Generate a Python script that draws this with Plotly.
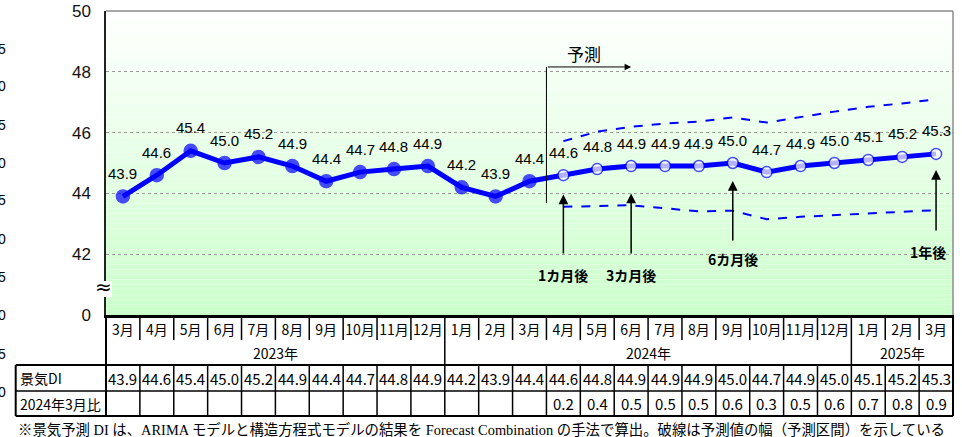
import plotly.graph_objects as go

# months Mar 2023 .. Mar 2025
months = ["3月", "4月", "5月", "6月", "7月", "8月", "9月", "10月", "11月", "12月",
          "1月", "2月", "3月", "4月", "5月", "6月", "7月", "8月", "9月", "10月",
          "11月", "12月", "1月", "2月", "3月"]
years = ["2023年", "2024年", "2025年"]
year_start = [0, 10, 22]   # first column of each year
di_values = [43.9, 44.6, 45.4, 45.0, 45.2, 44.9, 44.4, 44.7, 44.8, 44.9, 44.2, 43.9, 44.4,
             44.6, 44.8, 44.9, 44.9, 44.9, 45.0, 44.7, 44.9, 45.0, 45.1, 45.2, 45.3]
n_actual = 13
vs_mar2024 = [None] * 13 + [0.2, 0.4, 0.5, 0.5, 0.5, 0.6, 0.3, 0.5, 0.6, 0.7, 0.8, 0.9]
upper = [45.72, 46.03, 46.19, 46.30, 46.36, 46.50, 46.33, 46.52, 46.69, 46.85, 46.96, 47.10]
lower = [43.56, 43.59, 43.61, 43.51, 43.41, 43.43, 43.15, 43.23, 43.29, 43.35, 43.40, 43.45]
horizons = ["1カ月後", "3カ月後", "6カ月後", "1年後"]
horizon_idx = [13, 15, 18, 24]
ytick_vals = [40, 42, 44, 46, 48, 50]
ytick_text = ["0", "42", "44", "46", "48", "50"]

n = len(months)
x = list(range(n))
fx = x[n_actual:]

W, H = 962, 437
L, T, R, B = 106, 11, 9, 122
PW, PH = W - L - R, H - T - B
IMG_L, IMG_B = L, H - B


def px_x(p):
    return (p - IMG_L) / PW


def px_y(p):
    return (IMG_B - p) / PH


BLUE = "#0000ff"
GOTHIC = "Noto Sans CJK JP"
SANS = "Liberation Sans"

fig = go.Figure()

# main line
fig.add_trace(go.Scatter(
    x=x, y=di_values, mode="lines+markers",
    line=dict(color=BLUE, width=5),
    marker=dict(color=[BLUE] * n_actual + ["white"] * (n - n_actual),
                size=[13] * n_actual + [11] * (n - n_actual),
                line=dict(color=BLUE, width=1.5)),
    showlegend=False, hoverinfo="skip"))

# prediction interval
for band in (upper, lower):
    fig.add_trace(go.Scatter(x=fx, y=band, mode="lines",
                             line=dict(color=BLUE, width=2, dash="dash"),
                             showlegend=False, hoverinfo="skip"))

shapes = []
# green gradient background
nb = 60
for i in range(nb):
    t = 1 - (i + 0.5) / nb
    c = int(round(255 - 51 * t))
    shapes.append(dict(type="rect", xref="paper", yref="paper", x0=0, x1=1,
                       y0=i / nb, y1=(i + 1) / nb, fillcolor=f"rgb({c},255,{c})",
                       line=dict(width=0), layer="below"))

# gray frame top/right
shapes.append(dict(type="line", xref="paper", yref="paper", x0=0, x1=1, y0=1, y1=1,
                   line=dict(color="#8c8c8c", width=1.5)))
shapes.append(dict(type="line", xref="paper", yref="paper", x0=1, x1=1, y0=0, y1=1,
                   line=dict(color="#8c8c8c", width=1.5)))

# axis break patch
shapes.append(dict(type="rect", xref="paper", yref="paper", x0=px_x(103), x1=px_x(112),
                   y0=px_y(297), y1=px_y(281), fillcolor="white",
                   line=dict(width=0), layer="above"))

# forecast start marker line
shapes.append(dict(type="line", xref="x", yref="y", x0=12.5, x1=12.5, y0=43.68, y1=48.16,
                   line=dict(color="black", width=1)))


def hline(py, x0, x1, w=1.5):
    shapes.append(dict(type="line", xref="paper", yref="paper", x0=px_x(x0), x1=px_x(x1),
                       y0=px_y(py), y1=px_y(py), line=dict(color="black", width=w)))


def vline(px_paper, y0, y1, w=1.5):
    shapes.append(dict(type="line", xref="paper", yref="paper", x0=px_paper, x1=px_paper,
                       y0=px_y(y0), y1=px_y(y1), line=dict(color="black", width=w)))


ROW_M, ROW_Y, ROW_1, ROW_2, ROW_E = 315, 340, 365, 391, 416
TBL_L, TBL_R = 15.7, L + PW
hline(ROW_1, TBL_L, TBL_R, 2)
hline(ROW_2, TBL_L, TBL_R, 1.5)
hline(ROW_E, TBL_L, TBL_R, 2)
vline(px_x(TBL_L), ROW_1, ROW_E, 2)
vline(0, ROW_M, ROW_E, 2)
vline(1, ROW_M, ROW_E, 2)
for k in range(1, n):
    vline(k / n, ROW_M, ROW_Y, 1.5)
    vline(k / n, ROW_1, ROW_E, 1.5)
for k in year_start[1:]:
    vline(k / n, ROW_Y, ROW_1, 1.5)

ann = []


def text(xv, yv, s, xref="paper", yref="paper", xanchor="center", size=14,
         family=GOTHIC, **kw):
    ann.append(dict(x=xv, y=yv, xref=xref, yref=yref, text=s, showarrow=False,
                    xanchor=xanchor, yanchor="middle",
                    font=dict(family=family, size=size, color="black"), **kw))


# data labels
for i, v in enumerate(di_values):
    text(i, v, f"{v:.1f}", xref="x", yref="y", size=15, family=SANS, yshift=23)

# horizon arrows
arrow_tip = [43.96, 44.0, 44.41, 44.77]
arrow_tail = [41.97, 41.97, 42.4, 42.73]
label_pos = [(13.0, 41.3), (15.0, 41.3), (18.0, 41.84), (23.76, 42.07)]
for i, name in enumerate(horizons):
    hx = horizon_idx[i]
    ann.append(dict(x=hx, y=arrow_tip[i], ax=hx, ay=arrow_tail[i], xref="x", yref="y",
                    axref="x", ayref="y", text="", showarrow=True, arrowhead=2,
                    arrowsize=1.3, arrowwidth=1.5, arrowcolor="black"))
    lx, ly = label_pos[i]
    text(lx, ly, f"<b>{name}</b>", xref="x", yref="y")

# 予測 arrow
ann.append(dict(x=15.0, y=48.16, ax=12.5, ay=48.16, xref="x", yref="y", axref="x",
                ayref="y", text="", showarrow=True, arrowhead=2, arrowsize=1.3,
                arrowwidth=1, arrowcolor="black"))
text(13.61, 48.6, "予測", xref="x", yref="y", size=17)

# axis break symbol
text(px_x(103), px_y(287), "≈", size=20, family="DejaVu Sans")

# table texts
for j, yr in enumerate(years):
    s = year_start[j]
    e = year_start[j + 1] if j + 1 < len(years) else n
    text((s + e - 1) / 2, px_y(353), yr, xref="x")
text(px_x(18), px_y(378), "景気DI", xanchor="left")
text(px_x(18), px_y(403.5), "2024年3月比", xanchor="left")
for i, v in enumerate(di_values):
    text(i, px_y(378), f"{v:.1f}", xref="x", size=15)
for i, v in enumerate(vs_mar2024):
    if v is not None:
        text(i, px_y(403.5), f"{v:.1f}", xref="x", size=15)

text(px_x(16), px_y(429),
     "※景気予測 DI は、ARIMA モデルと構造方程式モデルの結果を Forecast Combination の手法で算出。破線は予測値の幅（予測区間）を示している",
     xanchor="left", size=14.4, family="Liberation Serif, Noto Sans CJK JP")

# cut-off digits at the far left edge (as in the source image)
edge_digits = ["5", "0", "5", "0", "5", "0", "5", "0", "5", "0"]
edge_y = [49, 86, 125, 163, 200, 239, 277, 315, 354, 392]
for d, py in zip(edge_digits, edge_y):
    text(px_x(8), px_y(py), d, xanchor="right", size=14, family=SANS)

fig.update_layout(
    width=W, height=H,
    margin=dict(l=L, r=R, t=T, b=B, pad=0, autoexpand=False),
    paper_bgcolor="white", plot_bgcolor="white",
    shapes=shapes, annotations=ann,
    xaxis=dict(range=[-0.5, n - 0.5], tickvals=x, ticktext=months, showgrid=False,
               zeroline=False, showline=True, linecolor="black", linewidth=2.5, ticks="",
               automargin=False,
               tickfont=dict(family=GOTHIC, size=14, color="black"), fixedrange=True),
    yaxis=dict(range=[40, 50], tickvals=ytick_vals, ticktext=ytick_text, showgrid=True,
               gridcolor="#9a9a9a", griddash="dot", gridwidth=1, zeroline=False,
               showline=True, linecolor="#222222", linewidth=1.5, ticks="",
               automargin=False,
               ticklabelstandoff=10, tickfont=dict(family=SANS, size=17, color="#111111"),
               fixedrange=True),
)

# drop the browser's default 8px body margin so the figure sits at the page corner
fig.write_html("out.html", config={"displayModeBar": False},
               post_script="document.body.style.margin = '0';")
